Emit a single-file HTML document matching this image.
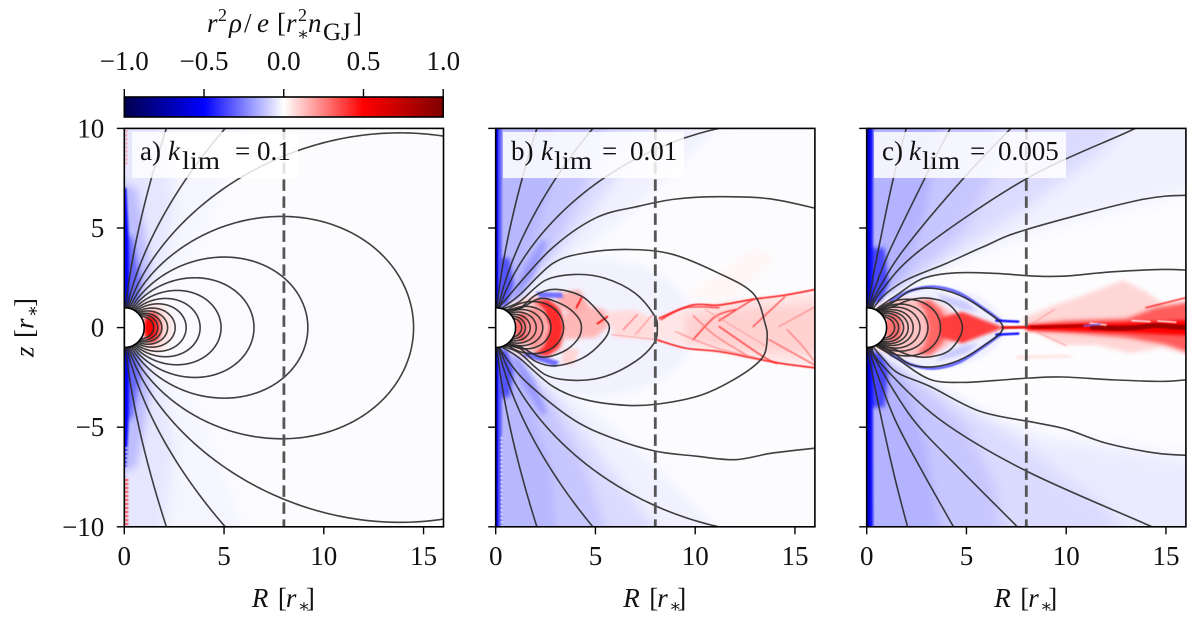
<!DOCTYPE html>
<html lang="en">
<head>
<meta charset="utf-8">
<title>Charge density panels</title>
<style>
html,body{margin:0;padding:0;background:#fff;width:1200px;height:623px;overflow:hidden;}
svg{display:block;overflow:hidden;}
text{font-family:"Liberation Serif","DejaVu Serif",serif;font-size:27px;fill:#111;}
.i{font-style:italic;}
.tick{text-anchor:middle;}
.ytick{text-anchor:end;}
</style>
</head>
<body>
<svg id="fig" xmlns="http://www.w3.org/2000/svg" width="1200" height="623" viewBox="0 0 1200 623">
  <defs id="defs"></defs>
  <g id="panels"></g>
  <g id="colorbar"></g>
  <text y="32"><tspan class="i" x="207">r</tspan><tspan x="218" y="21" font-size="18">2</tspan><tspan class="i" x="229" y="32">ρ</tspan><tspan x="244" y="32">/</tspan><tspan class="i" x="257" y="32">e</tspan><tspan x="277" y="32">[</tspan><tspan class="i" x="286" y="32">r</tspan><tspan x="298" y="21" font-size="18">2</tspan><tspan x="297" y="40" font-size="18">∗</tspan><tspan class="i" x="308" y="32">n</tspan><tspan x="323" y="40" font-size="25">GJ</tspan><tspan x="353" y="32">]</tspan></text>
  <text transform="translate(33.5,357) rotate(-90)"><tspan class="i" x="0" y="0">z</tspan><tspan x="19" y="0">[</tspan><tspan class="i" x="28" y="0">r</tspan><tspan x="40" y="5" font-size="18">∗</tspan><tspan x="50" y="0">]</tspan></text>
  <text y="160"><tspan x="140">a)</tspan><tspan class="i" x="168">k</tspan><tspan x="182" y="169" font-size="25" textLength="38" lengthAdjust="spacingAndGlyphs">lim</tspan><tspan x="235" y="160">=</tspan><tspan x="257" y="160">0.1</tspan></text>
  <text y="160"><tspan x="511">b)</tspan><tspan class="i" x="541">k</tspan><tspan x="554" y="169" font-size="25" textLength="38" lengthAdjust="spacingAndGlyphs">lim</tspan><tspan x="602" y="160">=</tspan><tspan x="630" y="160">0.01</tspan></text>
  <text y="160"><tspan x="882">c)</tspan><tspan class="i" x="909">k</tspan><tspan x="922" y="169" font-size="25" textLength="38" lengthAdjust="spacingAndGlyphs">lim</tspan><tspan x="970" y="160">=</tspan><tspan x="998" y="160">0.005</tspan></text>
</svg>
<script>
/* ---------- axis data ---------- */
const xTickValues = [0, 5, 10, 15];
const yTickValues = [10, 5, 0, -5, -10];
const cbarTickValues = [-1, -0.5, 0, 0.5, 1];
const cbarStopValues = [-1, -0.5, -0.1, 0, 0.1, 0.5, 1];
const dashedLineR = 8;
const starRadius = 1;

/* ---------- dipole-shaped field lines: equatorial crossing L (r*) ---------- */
const dipoleA = [240, 55, 25.4, 14.5, 9.2, 6.5, 4.85, 3.8, 3.1, 2.55, 2.17, 1.88, 1.68, 1.47];
const dipoleB = [250, 58, 27, 3.4, 2.77, 2.36, 2.03, 1.73, 1.49, 1.3];
const dipoleC = [3.7, 3.07, 2.67, 2.33, 2.08, 1.85, 1.6, 1.4];

/* ---------- deformed field lines: [R, z] ---------- */
const deformedB = [
  [[0.27,0.96],[1.19,1.63],[2.86,3.22],[4.5,3.75],[6.7,3.92],[8.86,3.68],[11.2,2.72],[12.9,1.72],[13.5,0.22],[13.6,-0.62],[13.35,-1.53],[12.2,-2.45],[10.35,-3.37],[8.2,-3.83],[6.53,-3.9],[4.5,-3.62],[2.86,-2.95],[1.19,-1.53],[0.27,-0.96]],
  [[0.33,0.94],[1.19,1.3],[2.5,2.38],[4,2.67],[5.5,2.47],[7,1.72],[7.94,0.63],[8.1,0],[7.94,-0.78],[7,-1.7],[5.5,-2.45],[4,-2.65],[2.5,-2.37],[1.19,-1.28],[0.33,-0.94]],
  [[0.4,0.92],[1.19,0.97],[2,1.63],[3,1.92],[4.35,1.55],[5.35,0.55],[5.7,0],[5.35,-0.7],[4.35,-1.53],[3,-1.92],[2,-1.7],[1.19,-1.03],[0.4,-0.92]],
  [[0.47,0.88],[1.2,0.95],[2.28,1.47],[3.4,1.13],[4.1,0.55],[4.3,0],[4.1,-0.6],[3.4,-1.2],[2.28,-1.48],[1.2,-0.95],[0.47,-0.88]],
  [[0.14,0.99],[2.7,3.87],[5,5.5],[7.2,6.1],[9,6.45],[11.2,6.57],[13.7,6.47],[16.2,5.95]],
  [[0.16,-0.99],[1.4,-2.6],[3.86,-4.6],[6,-5.6],[8,-6.2],[10,-6.45],[12,-6.63],[13.86,-6.3],[16.2,-6.03]]
];
const deformedC = [
  [[0.07,1],[0.18,1.8],[0.58,3.88],[1.33,7.47],[2.2,10.8]],
  [[0.14,0.99],[0.35,1.8],[1.16,3.88],[2.9,7.47],[4.6,10.8]],
  [[0.2,0.98],[0.53,1.8],[1.83,3.88],[4.83,7.47],[8,10.8]],
  [[0.26,0.97],[0.7,1.8],[2.67,3.88],[8,7.47],[13.25,9.9],[15,10.8]],
  [[0.31,0.95],[0.9,1.65],[2,2.4],[3.98,3.22],[5.83,4.05],[8,4.92],[13.65,6.4],[16.2,6.65]],
  [[0.44,0.9],[1.5,1.63],[2.83,2.47],[4.5,2.75],[6.5,2.72],[8.17,2.6],[9.83,2.58],[12.3,2.8],[14.83,2.92],[16.2,2.88]],
  [[0.5,0.87],[1.3,1.25],[2.2,1.85],[3.33,1.97],[4.6,1.65],[5.8,0.95],[6.83,0],[5.8,-0.95],[4.6,-1.65],[3.33,-1.97],[2.2,-1.85],[1.3,-1.25],[0.5,-0.87]],
  [[0.55,0.84],[1.3,1.05],[2.2,1.4],[3.17,1.47],[4.2,1.1],[4.8,0],[4.2,-1.1],[3.17,-1.47],[2.2,-1.4],[1.3,-1.05],[0.55,-0.84]],
  [[0.44,-0.9],[1.5,-1.55],[3.17,-2.6],[4.83,-2.75],[6.5,-2.65],[8.17,-2.53],[9.83,-2.48],[12.3,-2.62],[14.8,-2.7],[16.2,-2.6]],
  [[0.31,-0.95],[0.9,-1.65],[1.6,-2.3],[3.17,-2.95],[5.67,-4.2],[8.33,-4.75],[10,-5.1],[12,-5.8],[14.5,-6.3],[16.2,-6.42]],
  [[0.26,-0.97],[0.7,-1.8],[3.67,-4.62],[8,-7.2],[14.3,-10],[16,-10.8]],
  [[0.2,-0.98],[0.55,-1.8],[2.33,-4.62],[4.67,-7.1],[7.55,-10],[8.3,-10.8]],
  [[0.14,-0.99],[0.35,-1.8],[1.42,-4.62],[2.83,-7.3],[4.35,-10],[4.8,-10.8]],
  [[0.07,-1],[0.18,-1.8],[0.75,-4.62],[1.4,-7.5],[2.05,-10],[2.3,-10.8]]
];

/* ---------- charge-density field, painted as soft regions: rho value + [R,z] outline ---------- */
const baseRho = [-0.006, -0.005, -0.003];

const regionsA = [
  {rho:-0.009, soft:6, ell:[5,0,7,6]},
  {rho:-0.02, soft:8, mir:1, pts:[[0,1],[1.5,1.8],[3,3.5],[5,7],[6,10],[6,12],[0,12]]},
  {rho:-0.05, soft:6, mir:1, pts:[[0,1],[1.2,1.8],[2,3.5],[2.5,6],[2,10],[1.5,12],[0,12]]},
  {rho:-0.13, soft:4, mir:1, pts:[[0,1],[0.9,1.5],[1.3,3],[1,5],[0.6,7],[0,8]]},
  {rho:-0.3, soft:3, mir:1, pts:[[0,0.9],[0.7,1.2],[0.8,2.5],[0.4,4.5],[0,6]]},
  {rho:-0.5, soft:1, mir:1, pts:[[0,0.9],[0.25,1],[0.2,5],[0.1,7],[0,7]]},
  {rho:0.06, soft:3, ell:[1.45,0,0.95,1.25]},
  {rho:0.38, soft:2, ell:[1.4,0,0.45,0.8]},
  {rho:0.5, soft:1.5, ell:[1.3,0,0.25,0.55]}
];
const strokesA = [
  {rho:0.4, w:4, gap:1, pts:[[0.1,-7.6],[0.1,-10]]},
  {rho:0.22, w:2, gap:1, pts:[[0.1,8.2],[0.1,10]]},
  {rho:-0.1, w:3, gap:1, pts:[[0.1,-6],[0.1,-7.6]]}
];

const regionsB = [
  {rho:-0.03, soft:8, mir:1, pts:[[0,1],[1.5,1.6],[4,3.5],[7,6],[11,10],[13,12],[0,12]]},
  {rho:-0.025, soft:5, ell:[5,0,5,3.5]},
  {rho:-0.07, soft:6, mir:1, pts:[[0,1],[1.2,1.8],[3.5,4],[6,7.5],[8,10],[9,12],[0,12]]},
  {rho:-0.11, soft:5, mir:1, pts:[[0,1],[1,1.7],[2.7,3.6],[4.5,7],[5.5,10],[6,12],[0,12]]},
  {rho:-0.14, soft:4, mir:1, pts:[[0,1],[0.9,1.9],[1.8,4],[2.8,7],[3,10],[3,12],[0,12]]},
  {rho:-0.2, soft:3, mir:1, pts:[[0.7,1.3],[1.1,1.4],[1.9,2.6],[2.6,4.3],[2.3,4.4],[1.4,3]]},
  {rho:-0.34, soft:2, mir:1, pts:[[0,0.95],[0.6,1.1],[0.9,2.2],[0.7,3.5],[0,3.5]]},
  {rho:-0.33, soft:1, mir:1, pts:[[0,0.9],[0.3,0.95],[0.3,12],[0,12]]},
  {rho:-0.5, soft:0.5, mir:1, pts:[[0,0.9],[0.12,0.9],[0.12,12],[0,12]]},
  {rho:0.09, soft:2.5, ell:[1.9,0,1.55,1.55]},
  {rho:0.42, soft:2, pts:[[2.7,0],[2.4,0.9],[1.9,1.35],[2.6,1.45],[3.2,1],[3.5,0],[3.2,-1],[2.6,-1.45],[1.9,-1.35],[2.4,-0.9]]},
  {rho:0.3, soft:1.5, ell:[1.35,0,0.4,0.75]},
  {rho:0.2, soft:2, ell:[2,0,0.5,1.1]},
  {rho:0.14, soft:2, pts:[[3.4,0.6],[4.1,1.2],[5.5,0.9],[5.7,0.1],[5,-0.5],[3.4,-0.6]]},
  {rho:0.16, soft:2, pts:[[3,1.7],[4.2,1.9],[4.7,1],[4,0.6],[3.2,1]]},
  {rho:0.08, soft:1.5, pts:[[3.4,-1],[4.2,-1.1],[3.9,-1.9],[3.3,-1.8]]},
  {rho:0.07, soft:2, pts:[[5.5,0.8],[7,0.9],[8,0.4],[8,-0.6],[6,-0.5]]},
  {rho:-0.28, soft:1, pts:[[2,1.8],[3.3,1.75],[3.4,1.5],[2.2,1.5]]},
  {rho:-0.28, soft:1, pts:[[1.3,-1.4],[3,-1.95],[3.2,-1.7],[1.6,-1.2]]},
  {rho:0.02, soft:4, pts:[[9.5,1.5],[13,4],[14,3.5],[12,1.5]]},
  {rho:0.05, soft:2, pts:[[8,0.5],[10,1.1],[13,1.5],[18,2],[18,-2.1],[13,-1.6],[10,-1],[8,-0.6]]},
  {rho:0.09, soft:4, pts:[[9.5,0.6],[13,1],[18,1.3],[18,-1.4],[13,-1.2],[9.5,-0.7]]}
];
const strokesB = [
  {rho:0.52, w:1.6, pts:[[8.2,0.47],[9.86,1.13],[11.2,1.13],[12.9,1.42],[14.5,1.63],[16.2,1.95]]},
  {rho:0.52, w:1.6, pts:[[8.1,-0.62],[9.5,-1.03],[11.2,-1.2],[12.9,-1.53],[14.2,-1.78],[16.2,-2.05]]},
  {rho:0.42, w:1.4, pts:[[8.3,0.4],[9.5,1],[11.2,1.0]]},
  {rho:0.42, w:1.4, pts:[[12,0.9],[11,0.55],[9.9,-0.6]]},
  {rho:0.3, w:1.2, pts:[[9.9,0.6],[11,-0.4],[12.6,-1.4]]},
  {rho:0.42, w:1.4, pts:[[11.2,0.05],[13.4,-1.45],[14.1,-1.8]]},
  {rho:0.42, w:1.4, pts:[[11.2,0.35],[12.9,1.42]]},
  {rho:0.38, w:1.4, pts:[[12.9,0.05],[14.5,1.55]]},
  {rho:0.25, w:1.2, pts:[[14.2,0.05],[16.2,1.15]]},
  {rho:0.32, w:1.4, pts:[[13.7,-0.6],[16.2,-2]]},
  {rho:0.28, w:1.2, pts:[[14.6,-0.1],[15.4,-0.95],[16.2,-2]]},
  {rho:0.25, w:1, pts:[[9,-0.2],[11,-1],[13,-1.5]]},
  {rho:0.2, w:1, pts:[[10.5,0.9],[13.5,-0.9]]},
  {rho:0.5, w:1.8, pts:[[4.3,1.5],[4.05,1]]},
  {rho:0.5, w:1.8, pts:[[5.6,0.55],[5.1,0.2]]},
  {rho:0.3, w:1.2, pts:[[7.1,0.65],[6.4,-0.1]]},
  {rho:0.2, w:1, pts:[[5.8,-0.35],[8,-0.6]]},
  {rho:0.25, w:1, pts:[[7.9,0.7],[7,-0.35]]},
  {rho:0, w:2, gap:1, pts:[[0.3,-5.5],[0.3,-10]]}
];

const regionsC = [
  {rho:-0.03, soft:8, pts:[[0,1],[2,2.8],[5,3.5],[9,5],[18,7.3],[18,12],[0,12]]},
  {rho:-0.04, soft:8, pts:[[0,-1],[2,-2.9],[5,-4],[9,-5.5],[18,-6.8],[18,-12],[0,-12]]},
  {rho:-0.07, soft:7, mir:1, pts:[[0,1],[1.5,1.9],[4,3.4],[8,6],[12,9],[14,12],[0,12]]},
  {rho:-0.11, soft:6, mir:1, pts:[[0,1],[1.2,1.8],[3,3.2],[5,5],[6.5,8],[7,12],[0,12]]},
  {rho:-0.15, soft:5, mir:1, pts:[[0,1],[1,1.7],[2,3],[3,6],[3.5,9],[4,12],[0,12]]},
  {rho:-0.36, soft:2, mir:1, pts:[[0,0.95],[0.7,1.2],[1.1,2.2],[0.9,4],[0,4]]},
  {rho:-0.48, soft:1, mir:1, pts:[[0,0.9],[0.3,0.95],[0.32,12],[0,12]]},
  {rho:-0.62, soft:0.5, mir:1, pts:[[0,0.9],[0.15,0.9],[0.16,12],[0,12]]},
  {rho:-0.03, soft:2, ell:[3.4,0,3.5,2.05]},
  {rho:0.12, soft:2, ell:[2.2,0,2.4,1.45]},
  {rho:0.3, soft:2, pts:[[3.1,0],[2.9,0.9],[2.5,1.3],[3.2,1.4],[3.8,0.8],[4.1,0],[3.8,-0.8],[3.2,-1.4],[2.5,-1.3],[2.9,-0.9]]},
  {rho:0.28, soft:1.5, ell:[1.35,0,0.4,0.75]},
  {rho:0.38, soft:1.5, pts:[[3.7,0.5],[4.8,0.8],[5.8,0.4],[6.9,0],[5.8,-0.4],[4.8,-0.8],[3.7,-0.5]]},
  {rho:-0.1, soft:1.5, mir:1, pts:[[3.5,1.7],[5,1.3],[5.6,0.8],[4.8,0.9],[3.8,1.3]]},
  {rho:0.08, soft:2.5, pts:[[7.8,0.47],[9.2,1.05],[10.7,1.55],[12.83,2.38],[14,1.8],[14.83,1.22],[15.83,1.3],[18,2.5],[18,-1.9],[14.83,-1],[13.2,-1.28],[11.5,-0.87],[9.83,-0.87],[8.5,-0.28]]},
  {rho:0.32, soft:2, pts:[[8,0.15],[10,0.35],[13,0.45],[14.5,1],[16,1.25],[18,1.4],[18,-1.4],[16,-1.2],[15,-0.85],[13,-0.5],[10,-0.25],[8,-0.15]]},
  {rho:0.5, soft:1.5, pts:[[8,0.1],[13,0.25],[18,0.45],[18,-0.5],[13,-0.25],[8,-0.1]]},
  {rho:0.05, soft:1, pts:[[7.5,-1.4],[10,-1.35],[10.5,-1.5],[7.5,-1.6]]}
];
const strokesC = [
  {rho:-0.32, w:3, mir:1, pts:[[1.2,1.35],[2.2,1.85],[3.33,2.05],[4.6,1.75],[5.8,1],[6.7,0.35]]},
  {rho:-0.5, w:2.5, mir:1, pts:[[6.5,0.35],[7.6,0.3]]},
  {rho:0.6, w:3, pts:[[6.8,0],[8,0.02],[10,0.07],[11,0.1]]},
  {rho:0.78, w:3, pts:[[8.3,0.02],[10.8,0.08]]},
  {rho:0.92, w:5, pts:[[11.3,0.02],[12.5,-0.03],[13.5,0],[14.5,0.1],[15.5,0.03],[16.2,0]]},
  {rho:0, w:1.5, pts:[[11.2,0.22],[12,0.13]]},
  {rho:0, w:1.5, pts:[[13.3,0.35],[14.2,0.3]]},
  {rho:0, w:1.5, pts:[[14.6,0.33],[15.5,0.27]]},
  {rho:-0.3, w:1.5, pts:[[10.9,0.08],[11.7,0.17]]},
  {rho:0.22, w:1, pts:[[8.5,-0.2],[10,-0.9]]},
  {rho:0.22, w:1, pts:[[8.3,0.2],[9.4,0.9]]},
  {rho:0.45, w:1.5, pts:[[14,1],[15.2,1.3],[16,1.5]]}
];

const panelOrigins = [124.3, 495.7, 866.7];
const panelDefs = [
  {key:'a', dipole:dipoleA, deformed:[], regions:regionsA, strokes:strokesA, yLabels:true},
  {key:'b', dipole:dipoleB, deformed:deformedB, regions:regionsB, strokes:strokesB, yLabels:false},
  {key:'c', dipole:dipoleC, deformed:deformedC, regions:regionsC, strokes:strokesC, yLabels:false}
];
const labelBoxes = [[132,298],[503,684],[874,1066]];

/* ---------- scales ---------- */
const NS = 'http://www.w3.org/2000/svg';
const scaleX = 19.95, scaleY = 19.92, zeroY = 327.6;
const pz = z => zeroY - scaleY * z;
const axisTop = pz(10), axisBottom = pz(-10), axisW = 16 * scaleX;

function mk(tag, attrs, parent) {
  const e = document.createElementNS(NS, tag);
  for (const k in attrs) e.setAttribute(k, attrs[k]);
  parent.appendChild(e);
  return e;
}
function seismic(v) {
  const t = Math.max(-1, Math.min(1, v));
  let r, g, b;
  if (t < -0.5) { const f = (t + 1) / 0.5; r = 0; g = 0; b = 76 + (255 - 76) * f; }
  else if (t < 0) { const f = (t + 0.5) / 0.5; r = 255 * f; g = 255 * f; b = 255; }
  else if (t < 0.5) { const f = t / 0.5; r = 255; g = 255 * (1 - f); b = 255 * (1 - f); }
  else { const f = (t - 0.5) / 0.5; r = 255 - 128 * f; g = 0; b = 0; }
  return 'rgb(' + Math.round(r) + ',' + Math.round(g) + ',' + Math.round(b) + ')';
}
function smoothPath(pts, px) {
  let d = 'M' + px(pts[0][0]).toFixed(2) + ' ' + pz(pts[0][1]).toFixed(2);
  for (let i = 0; i < pts.length - 1; i++) {
    const p0 = pts[Math.max(0, i - 1)], p1 = pts[i], p2 = pts[i + 1], p3 = pts[Math.min(pts.length - 1, i + 2)];
    const c1x = px(p1[0]) + (px(p2[0]) - px(p0[0])) / 6, c1y = pz(p1[1]) + (pz(p2[1]) - pz(p0[1])) / 6;
    const c2x = px(p2[0]) - (px(p3[0]) - px(p1[0])) / 6, c2y = pz(p2[1]) - (pz(p3[1]) - pz(p1[1])) / 6;
    d += 'C' + c1x.toFixed(2) + ' ' + c1y.toFixed(2) + ' ' + c2x.toFixed(2) + ' ' + c2y.toFixed(2) + ' ' + px(p2[0]).toFixed(2) + ' ' + pz(p2[1]).toFixed(2);
  }
  return d;
}
/* dipole line r = L sin^2(theta), kept only where it falls inside the axes */
function dipolePath(L, px) {
  const t0 = Math.asin(1 / Math.sqrt(L));
  let d = '';
  let pen = false;
  const n = 400;
  for (let i = 0; i <= n; i++) {
    const t = t0 + (Math.PI - 2 * t0) * i / n;
    const r = L * Math.sin(t) * Math.sin(t);
    const R = r * Math.sin(t), z = r * Math.cos(t);
    if (Math.abs(z) > 10.4 || R > 16.4) { pen = false; continue; }
    d += (pen ? 'L' : 'M') + px(R).toFixed(2) + ' ' + pz(z).toFixed(2);
    pen = true;
  }
  return d;
}

/* ---------- shared defs ---------- */
const defs = document.getElementById('defs');
const softLevels = [0.5, 1, 1.5, 2, 2.5, 3, 4, 5, 6, 7, 8];
softLevels.forEach(s => {
  const f = mk('filter', {id:'soft' + String(s).replace('.', '_'), filterUnits:'userSpaceOnUse', x:0, y:0, width:1200, height:623}, defs);
  mk('feGaussianBlur', {stdDeviation:s}, f);
});
const softId = s => 'url(#soft' + String(s).replace('.', '_') + ')';

const panelsRoot = document.getElementById('panels');

panelDefs.forEach((pd, idx) => {
  const x0 = panelOrigins[idx];
  const px = R => x0 + scaleX * R;
  const clipId = 'clip-' + pd.key;
  const cp = mk('clipPath', {id:clipId}, defs);
  mk('rect', {x:x0, y:axisTop, width:axisW, height:axisBottom - axisTop}, cp);

  const g = mk('g', {}, panelsRoot);
  
  

  const field = mk('g', {'clip-path':'url(#' + clipId + ')'}, g);
  
  

  const base = mk('rect', {x:x0, y:axisTop, width:axisW, height:axisBottom - axisTop, fill:seismic(baseRho[idx])}, field);
  
  

  const edgeR = v => v === 0 ? -2 : v;
  pd.regions.forEach(reg => {
    const signs = reg.mir ? [1, -1] : [1];
    signs.forEach(sign => {
      let el;
      if (reg.ell) {
        el = mk('ellipse', {cx:px(reg.ell[0]), cy:pz(reg.ell[1]), rx:reg.ell[2] * scaleX, ry:reg.ell[3] * scaleY}, field);
      } else {
        el = mk('polygon', {points:reg.pts.map(p => px(edgeR(p[0])).toFixed(2) + ',' + pz(sign * p[1]).toFixed(2)).join(' ')}, field);
      }
      el.setAttribute('fill', seismic(reg.rho));
      el.setAttribute('filter', softId(reg.soft));
      
      
    });
  });

  pd.strokes.forEach(st => {
    const signs = st.mir ? [1, -1] : [1];
    signs.forEach(sign => {
      const pts = st.pts.map(p => [p[0], sign * p[1]]);
      const el = mk('path', {d:smoothPath(pts, px), fill:'none', stroke:seismic(st.rho), 'stroke-width':st.w, 'stroke-linecap':st.gap ? 'butt' : 'round', 'stroke-opacity':0.9, filter:softId(0.5)}, field);
      if (st.gap) el.setAttribute('stroke-dasharray', '2 2');
      
      
    });
  });

  const lines = mk('g', {'clip-path':'url(#' + clipId + ')', fill:'none', stroke:'#2a2a2a', 'stroke-width':1.6, 'stroke-opacity':0.9}, g);
  
  
  pd.dipole.forEach(L => {
    const el = mk('path', {d:dipolePath(L, px)}, lines);
    
    
  });
  pd.deformed.forEach(pts => {
    const el = mk('path', {d:smoothPath(pts, px)}, lines);
    
    
  });

  const dash = mk('line', {x1:px(dashedLineR), x2:px(dashedLineR), y1:axisTop, y2:axisBottom, stroke:'#555', 'stroke-width':2.8, 'stroke-dasharray':'11.5 5.5'}, g);
  
  

  const star = mk('path', {d:'M' + px(0) + ' ' + pz(starRadius) + ' A' + starRadius * scaleX + ' ' + starRadius * scaleY + ' 0 0 1 ' + px(0) + ' ' + pz(-starRadius) + ' Z', fill:'#fff', stroke:'#000', 'stroke-width':1.6}, g);
  
  

  const box = mk('rect', {x:labelBoxes[idx][0], y:132, width:labelBoxes[idx][1] - labelBoxes[idx][0], height:46, fill:'#fff', 'fill-opacity':0.84}, g);
  
  

  const frame = mk('rect', {x:x0, y:axisTop, width:axisW, height:axisBottom - axisTop, fill:'none', stroke:'#000', 'stroke-width':1.6}, g);
  
  

  xTickValues.forEach(v => {
    const t = mk('line', {x1:px(v), x2:px(v), y1:axisBottom, y2:axisBottom + 7.5, stroke:'#000', 'stroke-width':1.4}, g);
    
    
    const tx = mk('text', {x:px(v), y:565, class:'tick'}, g);
    tx.textContent = String(v);
    
    
  });
  yTickValues.forEach(v => {
    const t = mk('line', {x1:x0 - 7.5, x2:x0, y1:pz(v), y2:pz(v), stroke:'#000', 'stroke-width':1.4}, g);
    
    
    if (pd.yLabels) {
      const tx = mk('text', {x:x0 - 20, y:pz(v) + 9, class:'ytick'}, g);
      tx.textContent = String(v).replace('-', '\u2212');
      
      
    }
  });

  const cx = px(8);
  const xt = mk('text', {y:607}, g);
  
  
  const parts = [['R', -32, 607, 27, 'i'], ['[', -6, 607, 27, ''], ['r', 2, 607, 27, 'i'], ['\u2217', 14, 612, 18, ''], [']', 22, 607, 27, '']];
  parts.forEach(pt => {
    const s = mk('tspan', {x:cx + pt[1], y:pt[2], 'font-size':pt[3]}, xt);
    if (pt[4]) s.setAttribute('class', pt[4]);
    s.textContent = pt[0];
  });
});

/* ---------- colorbar ---------- */
const cb = document.getElementById('colorbar');
const cbLeft = 124.3, cbRight = 443.2, cbTop = 97, cbBottom = 117;
const cbX = v => cbLeft + (v + 1) / 2 * (cbRight - cbLeft);
const grad = mk('linearGradient', {id:'seismic-gradient', x1:0, x2:1, y1:0, y2:0}, defs);
cbarStopValues.forEach(v => {
  mk('stop', {offset:(v + 1) / 2, 'stop-color':seismic(v)}, grad);
});
const cbRect = mk('rect', {x:cbLeft, y:cbTop, width:cbRight - cbLeft, height:cbBottom - cbTop, fill:'url(#seismic-gradient)', stroke:'#000', 'stroke-width':1.6}, cb);


cbarTickValues.forEach(v => {
  const t = mk('line', {x1:cbX(v), x2:cbX(v), y1:cbTop - 8, y2:cbTop, stroke:'#000', 'stroke-width':1.4}, cb);
  
  
  const tx = mk('text', {x:cbX(v), y:70, class:'tick'}, cb);
  tx.textContent = v.toFixed(1).replace('-', '\u2212');
  
  
});
</script>
</body>
</html>
